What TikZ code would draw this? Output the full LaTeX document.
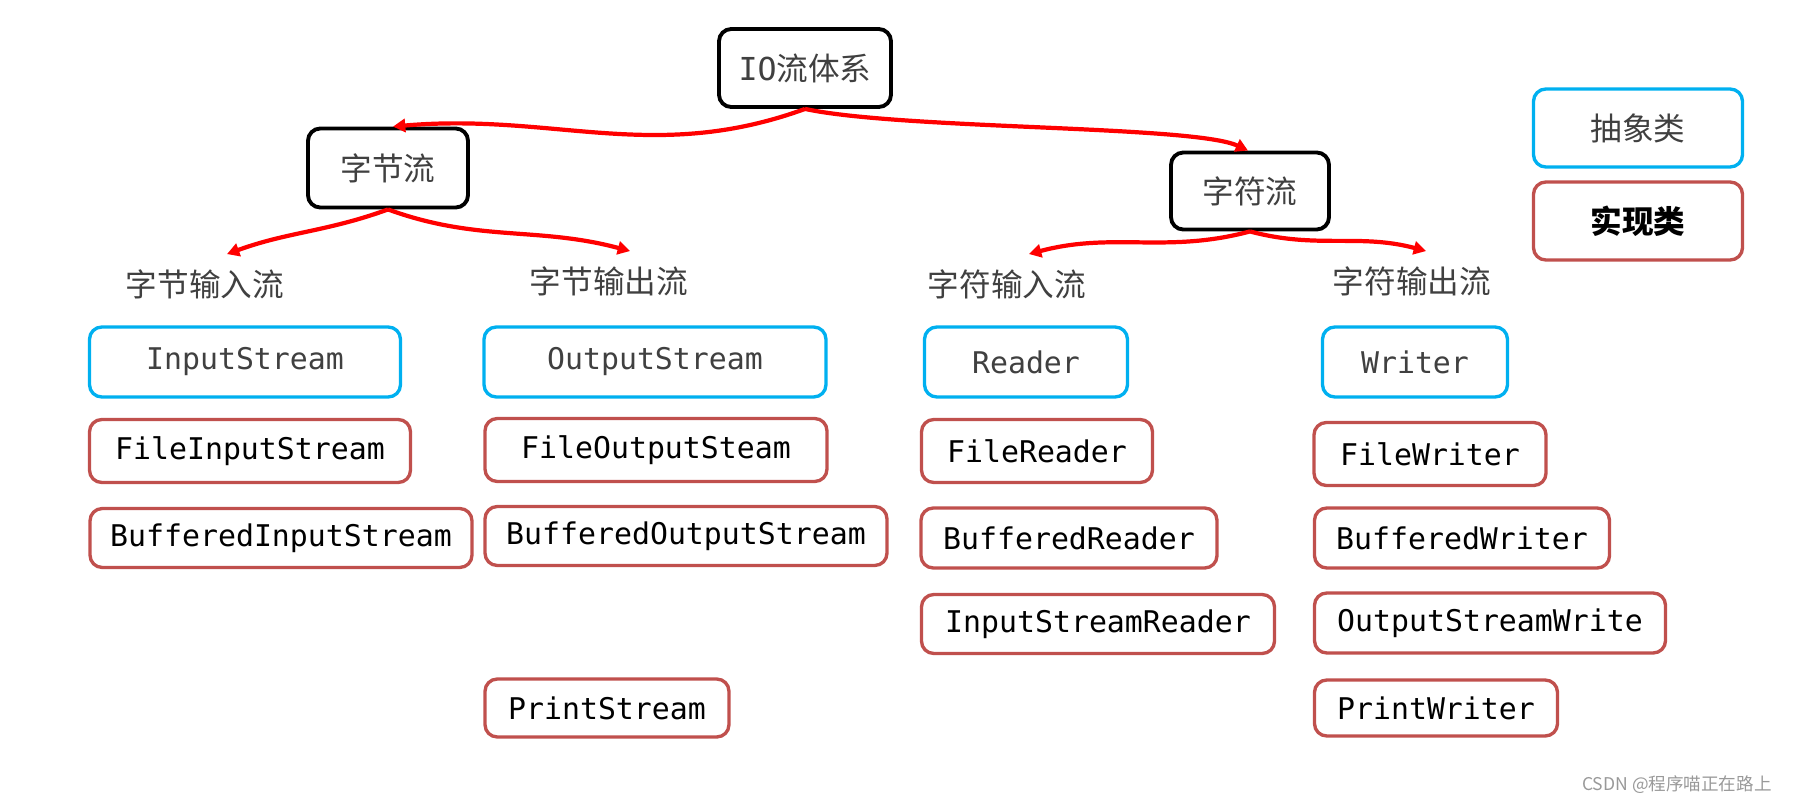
\documentclass[tikz,border=0pt]{standalone}
\usepackage{fontspec}
\setmainfont{Noto Sans CJK SC}
\setmonofont{DejaVu Sans Mono}
\usetikzlibrary{arrows.meta}

% One pixel of the original sketch.
\newlength\px
\setlength\px{0.02cm}

\definecolor{absblue}{HTML}{00B0F0}
\definecolor{impred}{HTML}{C0504D}
\definecolor{labelgray}{HTML}{404040}

\tikzset{
  rootbox/.style={draw=black, line width=2.2pt, rounded corners=7pt, inner sep=0pt,
    text=labelgray, font=\fontsize{18}{22}\selectfont},
  absbox/.style={draw=absblue, line width=1.9pt, rounded corners=7pt, inner sep=0pt,
    minimum height=70\px, text=labelgray, font=\ttfamily\fontsize{17}{20}\selectfont},
  impbox/.style={draw=impred, line width=1.9pt, rounded corners=7pt, inner sep=0pt,
    text=black, font=\ttfamily\fontsize{17}{20}\selectfont},
  flowlabel/.style={inner xsep=0pt, inner ysep=8.5pt, text=labelgray,
    font=\fontsize{18}{22}\selectfont},
  flow/.style={draw=red, line width=2.4pt, -{Triangle[length=7pt, width=7.5pt]}}
}

\begin{document}
\begin{tikzpicture}[x=0.02cm, y=-0.02cm]

    % Size of the sketch.
    \useasboundingbox (0,0) rectangle (1803,805);

    % Root and the two kinds of streams.
    \node[rootbox, minimum width=172\px, minimum height=78\px] (io)  at (805,68)  {{\ttfamily IO}流体系};
    \node[rootbox, minimum width=160\px, minimum height=79\px] (zjl) at (388,168) {字节流};
    \node[rootbox, minimum width=158\px, minimum height=77\px] (zfl) at (1250,191) {字符流};

    % Legend.
    \node[absbox, minimum width=209\px, minimum height=78\px, font=\fontsize{18}{22}\selectfont] (absleg) at (1638,128) {抽象类};
    \node[impbox, minimum width=209\px, minimum height=78\px, font=\bfseries\fontsize{18}{22}\selectfont] (impleg) at (1638,221) {实现类};

    % Labels of the four groups.
    \node[flowlabel] (zjin)  at (205,284)  {字节输入流};
    \node[flowlabel] (zjout) at (609,281)  {字节输出流};
    \node[flowlabel] (zfin)  at (1007,284) {字符输入流};
    \node[flowlabel] (zfout) at (1412,281) {字符输出流};

    % Abstract classes.
    \node[absbox, minimum width=311\px] (is) at (245,362)  {InputStream};
    \node[absbox, minimum width=342\px] (os) at (655,362)  {OutputStream};
    \node[absbox, minimum width=203\px] (rd) at (1026,362) {Reader};
    \node[absbox, minimum width=185\px] (wr) at (1415,362) {Writer};

    % Byte streams.
    \node[impbox, minimum width=321\px, minimum height=63\px] (fis) at (250,451) {FileInputStream};
    \node[impbox, minimum width=382\px, minimum height=59\px] (bis) at (281,538) {BufferedInputStream};
    \node[impbox, minimum width=342\px, minimum height=63\px] (fos) at (656,450) {FileOutputSteam};
    \node[impbox, minimum width=402\px, minimum height=59\px] (bos) at (686,536) {BufferedOutputStream};
    \node[impbox, minimum width=244\px, minimum height=58\px] (ps)  at (607,708) {PrintStream};

    % Character streams.
    \node[impbox, minimum width=231\px, minimum height=63\px] (fr)  at (1037,451) {FileReader};
    \node[impbox, minimum width=296\px, minimum height=60\px] (br)  at (1069,538) {BufferedReader};
    \node[impbox, minimum width=353\px, minimum height=59\px] (isr) at (1098,624) {InputStreamReader};
    \node[impbox, minimum width=232\px, minimum height=63\px] (fw)  at (1430,454) {FileWriter};
    \node[impbox, minimum width=295\px, minimum height=60\px] (bw)  at (1462,538) {BufferedWriter};
    \node[impbox, minimum width=351\px, minimum height=60\px] (osw) at (1490,623) {OutputStreamWrite};
    \node[impbox, minimum width=243\px, minimum height=56\px] (pw)  at (1436,708) {PrintWriter};

    % Red arrows.
    \draw[flow] (io.south) to[out=200, in=5] ([xshift=5\px]zjl.north);
    \draw[flow] (io.south) .. controls +(-12:2cm) and +(155:1.2cm) .. ([xshift=-2\px]zfl.north);
    \draw[flow] (zjl.south) to[out=200, in=20] ([xshift=22\px]zjin.north);
    \draw[flow] (zjl.south) to[out=-20, in=165] ([xshift=21\px]zjout.north);
    \draw[flow] (zfl.south) to[out=195, in=15] ([xshift=22\px]zfin.north);
    \draw[flow] (zfl.south) to[out=-15, in=165] ([xshift=14\px]zfout.north);

    % Watermark.
    \node[anchor=east, text=gray!80, font=\fontsize{10}{12}\selectfont, inner sep=0pt] (mark) at (1772,785) {CSDN @程序喵正在路上};
\end{tikzpicture}
\end{document}
